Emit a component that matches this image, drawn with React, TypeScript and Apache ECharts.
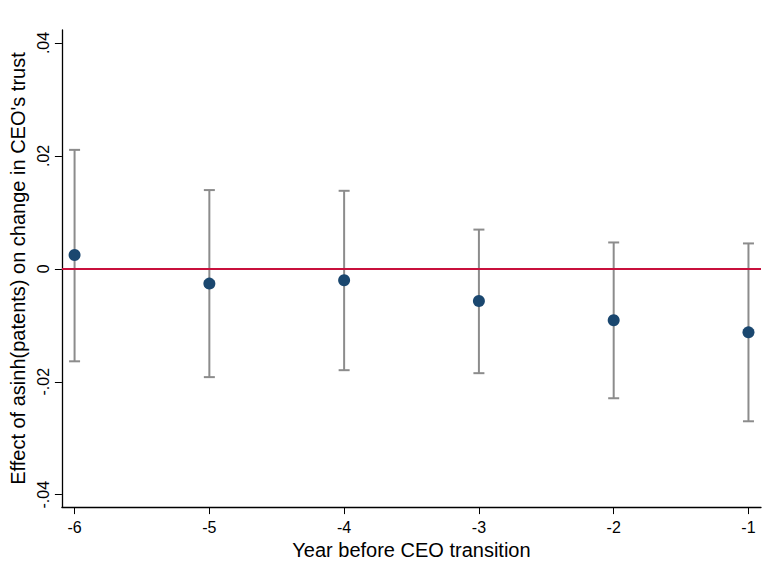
import React, { useEffect, useRef } from "react";
import * as echarts from "echarts";

const years = [-6, -5, -4, -3, -2, -1];
const estimates = [0.00245, -0.00262, -0.00203, -0.0057, -0.0091, -0.01125];
const ciUpper = [0.02107, 0.01395, 0.01382, 0.00695, 0.00467, 0.0045];
const ciLower = [-0.01638, -0.01918, -0.01795, -0.01848, -0.02292, -0.027];
const yTicks = [-0.04, -0.02, 0, 0.02, 0.04];
const xTicks = [-6, -5, -4, -3, -2, -1];

const fmtY = (v: number) => {
  if (Math.abs(v) < 1e-9) return "0";
  const s = v.toFixed(2);
  return s.replace("0.", ".");
};

export default function App() {
  const ref = useRef<HTMLDivElement>(null);
  useEffect(() => {
    if (!ref.current) return;
    const chart = echarts.init(ref.current, undefined, { renderer: "svg", width: 768, height: 565 });
    const font = "'Liberation Sans', Arial, sans-serif";
    chart.setOption({
      animation: false,
      backgroundColor: "#ffffff",
      grid: { left: 61, top: 30, width: 700, height: 483, containLabel: false },
      xAxis: {
        type: "value",
        min: -6.094,
        max: -0.907,
        name: "Year before CEO transition",
        nameLocation: "middle",
        nameGap: 31,
        nameTextStyle: { fontFamily: font, fontSize: 20, color: "#000" },
        axisLine: { show: true, onZero: false, lineStyle: { color: "#000", width: 1.3 } },
        axisTick: { show: true, length: 7, customValues: xTicks, lineStyle: { color: "#000" } },
        axisLabel: {
          customValues: xTicks,
          fontFamily: font,
          fontSize: 16,
          color: "#000",
          margin: 12,
          formatter: (v: number) => String(v),
        },
        splitLine: { show: false },
      },
      yAxis: {
        type: "value",
        min: -0.0422,
        max: 0.0423,
        name: "Effect of asinh(patents) on change in CEO's trust",
        nameLocation: "middle",
        nameGap: 32,
        nameTextStyle: { fontFamily: font, fontSize: 20, color: "#000" },
        axisLine: { show: true, onZero: false, lineStyle: { color: "#000", width: 1.3 } },
        axisTick: { show: true, length: 7, customValues: yTicks, lineStyle: { color: "#000" } },
        axisLabel: {
          customValues: yTicks,
          rotate: 90,
          fontFamily: font,
          fontSize: 16,
          color: "#000",
          margin: 10,
          formatter: (v: number) => fmtY(v),
        },
        splitLine: { show: false },
      },
      series: [
        {
          type: "custom",
          data: years.map((y, i) => [y, ciLower[i], ciUpper[i]]),
          renderItem: (params: any, api: any) => {
            const x = api.value(0);
            const lo = api.coord([x, api.value(1)]);
            const hi = api.coord([x, api.value(2)]);
            const hw = 5.5;
            const style = { stroke: "#8c8c8c", lineWidth: 2 };
            return {
              type: "group",
              children: [
                { type: "line", shape: { x1: lo[0], y1: lo[1], x2: hi[0], y2: hi[1] }, style },
                { type: "line", shape: { x1: hi[0] - hw, y1: hi[1], x2: hi[0] + hw, y2: hi[1] }, style },
                { type: "line", shape: { x1: lo[0] - hw, y1: lo[1], x2: lo[0] + hw, y2: lo[1] }, style },
              ],
            };
          },
          z: 2,
        },
        {
          type: "scatter",
          data: years.map((y, i) => [y, estimates[i]]),
          symbol: "circle",
          symbolSize: 12,
          itemStyle: { color: "#1a476f", opacity: 1 },
          z: 4,
          markLine: {
            silent: true,
            symbol: ["none", "none"],
            label: { show: false },
            lineStyle: { color: "#c8103c", width: 2, type: "solid" },
            data: [{ yAxis: 0 }],
            z: 3,
          },
        },
      ],
    });
    return () => chart.dispose();
  }, []);
  return (
    <div
      ref={ref}
      style={{ position: "fixed", left: 0, top: 0, width: 768, height: 565 }}
    />
  );
}
